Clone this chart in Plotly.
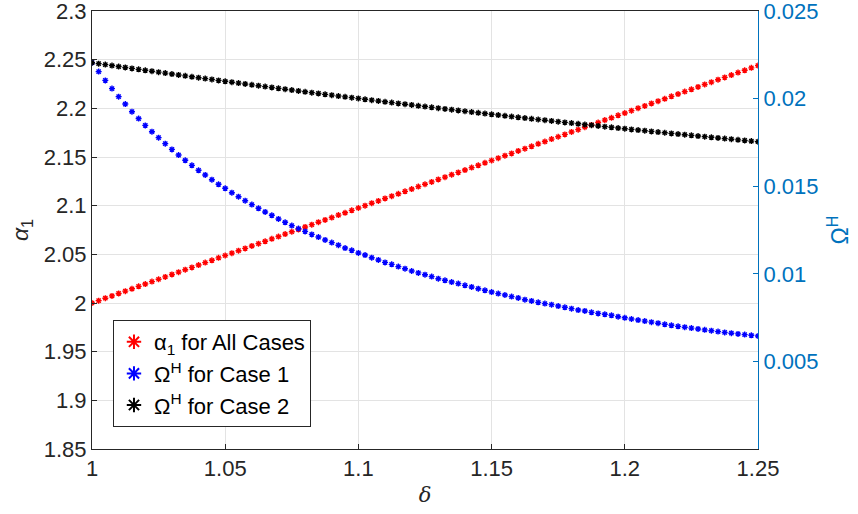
import plotly.graph_objects as go

delta = [round(1 + 0.0025 * i, 4) for i in range(101)]

alpha1 = [
    2.0000, 2.0024, 2.0049, 2.0073, 2.0098, 2.0122, 2.0146, 2.0171, 2.0195, 2.0220,
    2.0244, 2.0268, 2.0293, 2.0317, 2.0342, 2.0366, 2.0390, 2.0415, 2.0439, 2.0464,
    2.0488, 2.0512, 2.0537, 2.0561, 2.0586, 2.0610, 2.0634, 2.0659, 2.0683, 2.0708,
    2.0732, 2.0756, 2.0781, 2.0805, 2.0830, 2.0854, 2.0878, 2.0903, 2.0927, 2.0952,
    2.0976, 2.1000, 2.1025, 2.1049, 2.1074, 2.1098, 2.1122, 2.1147, 2.1171, 2.1196,
    2.1220, 2.1244, 2.1269, 2.1293, 2.1318, 2.1342, 2.1366, 2.1391, 2.1415, 2.1440,
    2.1464, 2.1488, 2.1513, 2.1537, 2.1562, 2.1586, 2.1610, 2.1635, 2.1659, 2.1684,
    2.1708, 2.1732, 2.1757, 2.1781, 2.1806, 2.1830, 2.1854, 2.1879, 2.1903, 2.1928,
    2.1952, 2.1976, 2.2001, 2.2025, 2.2050, 2.2074, 2.2098, 2.2123, 2.2147, 2.2172,
    2.2196, 2.2220, 2.2245, 2.2269, 2.2294, 2.2318, 2.2342, 2.2367, 2.2391, 2.2416,
    2.2440,
]

omega_case1 = [
    0.02205, 0.02154, 0.02104, 0.02057, 0.02011, 0.01969, 0.01925, 0.01886, 0.01847, 0.01811,
    0.01777, 0.01743, 0.01710, 0.01678, 0.01648, 0.01619, 0.01591, 0.01564, 0.01537, 0.01511,
    0.01488, 0.01463, 0.01440, 0.01417, 0.01395, 0.01374, 0.01353, 0.01334, 0.01313, 0.01294,
    0.01275, 0.01258, 0.01242, 0.01225, 0.01210, 0.01193, 0.01178, 0.01163, 0.01147, 0.01134,
    0.01119, 0.01107, 0.01092, 0.01079, 0.01065, 0.01054, 0.01041, 0.01029, 0.01016, 0.01005,
    0.00995, 0.00984, 0.00972, 0.00963, 0.00953, 0.00944, 0.00934, 0.00925, 0.00915, 0.00906,
    0.00896, 0.00887, 0.00879, 0.00870, 0.00862, 0.00852, 0.00845, 0.00837, 0.00830, 0.00824,
    0.00816, 0.00809, 0.00801, 0.00793, 0.00788, 0.00780, 0.00774, 0.00769, 0.00763, 0.00755,
    0.00749, 0.00742, 0.00736, 0.00730, 0.00724, 0.00718, 0.00712, 0.00706, 0.00700, 0.00695,
    0.00690, 0.00685, 0.00680, 0.00675, 0.00670, 0.00665, 0.00661, 0.00657, 0.00653, 0.00649,
    0.00645,
]

omega_case2 = [
    0.022050, 0.021995, 0.021940, 0.021886, 0.021831, 0.021777, 0.021723, 0.021669, 0.021616, 0.021562,
    0.021509, 0.021456, 0.021403, 0.021351, 0.021298, 0.021246, 0.021194, 0.021142, 0.021091, 0.021039,
    0.020988, 0.020937, 0.020886, 0.020836, 0.020785, 0.020735, 0.020685, 0.020635, 0.020586, 0.020536,
    0.020487, 0.020438, 0.020389, 0.020341, 0.020292, 0.020244, 0.020196, 0.020148, 0.020101, 0.020053,
    0.020006, 0.019959, 0.019912, 0.019866, 0.019819, 0.019773, 0.019727, 0.019681, 0.019636, 0.019590,
    0.019545, 0.019500, 0.019455, 0.019411, 0.019366, 0.019322, 0.019278, 0.019234, 0.019191, 0.019147,
    0.019104, 0.019061, 0.019018, 0.018976, 0.018933, 0.018891, 0.018849, 0.018807, 0.018766, 0.018724,
    0.018683, 0.018642, 0.018601, 0.018561, 0.018520, 0.018480, 0.018440, 0.018400, 0.018361, 0.018321,
    0.018282, 0.018243, 0.018204, 0.018166, 0.018127, 0.018089, 0.018051, 0.018013, 0.017976, 0.017938,
    0.017901, 0.017864, 0.017827, 0.017791, 0.017754, 0.017718, 0.017682, 0.017646, 0.017611, 0.017575,
    0.017540,
]

x_ticks = [1, 1.05, 1.1, 1.15, 1.2, 1.25]
x_ticktext = ["1", "1.05", "1.1", "1.15", "1.2", "1.25"]
y_left_ticks = [1.85, 1.9, 1.95, 2.0, 2.05, 2.1, 2.15, 2.2, 2.25, 2.3]
y_left_ticktext = ["1.85", "1.9", "1.95", "2", "2.05", "2.1", "2.15", "2.2", "2.25", "2.3"]
y_right_ticks = [0.005, 0.01, 0.015, 0.02, 0.025]
y_right_ticktext = ["0.005", "0.01", "0.015", "0.02", "0.025"]

FONT = "Liberation Sans, Arial, sans-serif"
AX = "#262626"
BLUE_AX = "#0072BD"
GRID = "#e3e3e3"
FS = 22

fig = go.Figure()

def add(y, name, color, axis):
    fig.add_trace(go.Scatter(
        x=delta, y=y, mode="markers", name=name, yaxis=axis,
        marker=dict(symbol="asterisk-open", size=5, color=color,
                    line=dict(color=color, width=1.4)),
    ))

add(alpha1, "α<sub>1</sub> for All Cases", "#ff0000", "y")
add(omega_case1, "Ω<sup>H</sup> for Case 1", "#0000ff", "y2")
add(omega_case2, "Ω<sup>H</sup> for Case 2", "#000000", "y2")

fig.update_layout(
    width=858, height=514,
    margin=dict(l=92, r=100, t=11, b=65, autoexpand=False),
    paper_bgcolor="white", plot_bgcolor="white",
    font=dict(family=FONT, size=FS, color=AX),
    showlegend=True,
    legend=dict(
        x=0.0315, y=0.2945, xanchor="left", yanchor="top",
        bgcolor="white", bordercolor="#262626", borderwidth=1,
        font=dict(family=FONT, size=FS, color="#000000"),
        tracegroupgap=0, itemsizing="constant",
    ),
    xaxis=dict(
        range=[1, 1.25], tickvals=x_ticks, ticktext=x_ticktext,
        showgrid=True, gridcolor=GRID, gridwidth=1,
        showline=True, linecolor=AX, linewidth=1, mirror=True,
        ticks="inside", ticklen=5, tickcolor=AX,
        zeroline=False, automargin=False, ticklabeloverflow="allow",
        title=dict(text="<i>δ</i>", font=dict(family="DejaVu Serif, serif", size=21, color=AX), standoff=6),
    ),
    yaxis=dict(
        range=[1.85, 2.3], tickvals=y_left_ticks, ticktext=y_left_ticktext,
        showgrid=True, gridcolor=GRID, gridwidth=1,
        showline=True, linecolor=AX, linewidth=1,
        ticks="inside", ticklen=5, tickcolor=AX,
        zeroline=False, automargin=False, ticklabeloverflow="allow",
        title=dict(text="<i>α</i><sub>1</sub>", font=dict(family=FONT, size=23, color=AX), standoff=8),
    ),
    yaxis2=dict(
        range=[0, 0.025], tickvals=y_right_ticks, ticktext=y_right_ticktext,
        overlaying="y", side="right",
        showgrid=False,
        showline=True, linecolor=BLUE_AX, linewidth=1,
        ticks="inside", ticklen=5, tickcolor=BLUE_AX,
        tickfont=dict(color=BLUE_AX),
        zeroline=False, automargin=False, ticklabeloverflow="allow",
        title=dict(text="Ω<sup>H</sup>", font=dict(family=FONT, size=23, color=BLUE_AX), standoff=14),
    ),
)

# remove the default 8px page margin so the figure sits at the window origin
fig.write_html(
    "out.html",
    config={"displayModeBar": False},
    post_script="document.body.style.margin='0';document.body.style.overflow='hidden';",
)
